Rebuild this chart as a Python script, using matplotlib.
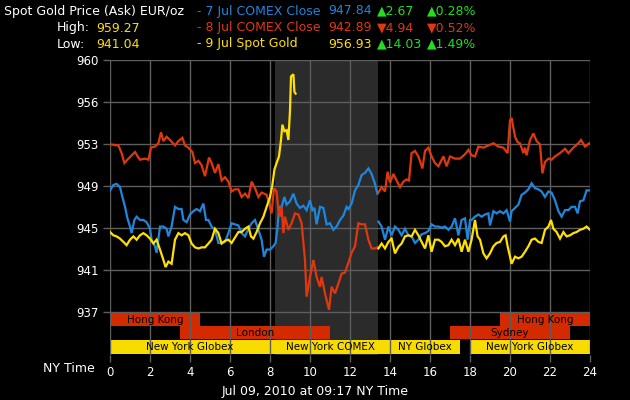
import numpy as np
import matplotlib
matplotlib.use('Agg')
import matplotlib.pyplot as plt
import matplotlib.transforms as mtransforms

# --- data (hours NY time, EUR/oz) ---
red_am_t = [0, 0.42, 0.58, 0.72, 0.92, 1.25, 1.42, 1.5, 1.75, 1.92, 2.05, 2.25, 2.42, 2.55, 2.67, 2.83,
            3.0, 3.25, 3.42, 3.62, 3.75, 3.92, 4.12, 4.25, 4.42, 4.58, 4.75, 4.95, 5.08, 5.25, 5.42, 5.58,
            5.75, 5.92, 6.08, 6.25, 6.42, 6.58, 6.75, 6.92, 7.08, 7.25, 7.42, 7.58, 7.83, 8.0, 8.08, 8.2,
            8.33, 8.42, 8.5, 8.58, 8.67, 8.75, 8.92, 9.08, 9.25, 9.42, 9.58, 9.75, 9.83, 10.0, 10.17, 10.33,
            10.5, 10.58, 10.75, 10.95, 11.08, 11.25, 11.42, 11.58, 11.75, 11.92, 12.08, 12.25, 12.42, 12.58,
            12.75, 12.92, 13.08, 13.25, 13.37]
red_am_v = [952.3, 952.2, 951.5, 950.6, 951.0, 951.6, 951.1, 950.9, 951.0, 950.9, 952.0, 952.1, 952.4, 953.4,
            952.6, 953.0, 952.7, 952.2, 952.6, 952.9, 952.2, 952.0, 951.6, 950.6, 950.8, 950.4, 949.4, 951.1,
            950.6, 949.7, 950.5, 949.0, 949.3, 948.9, 948.0, 948.2, 948.2, 947.5, 947.8, 947.4, 948.9, 948.3,
            947.5, 947.9, 947.7, 946.6, 946.0, 948.3, 948.0, 946.3, 945.7, 946.6, 944.2, 945.7, 944.5, 945.1,
            946.0, 945.9, 945.1, 941.75, 938.4, 940.2, 941.75, 940.2, 939.3, 940.2, 938.7, 937.2, 939.3, 938.7,
            939.6, 940.5, 940.6, 941.5, 942.4, 943.0, 945.1, 945.0, 945.0, 943.6, 942.8, 942.8, 942.9]
red_pm_t = [13.42, 13.58, 13.75, 13.88, 14.0, 14.17, 14.33, 14.5, 14.67, 14.83, 14.95, 15.08, 15.25, 15.42,
            15.62, 15.75, 15.92, 16.08, 16.25, 16.42, 16.67, 16.83, 17.0, 17.25, 17.5, 17.75, 17.92, 18.08,
            18.25, 18.42, 18.67, 18.92, 19.17, 19.42, 19.67, 19.88, 20.0, 20.08, 20.25, 20.38, 20.5, 20.67,
            20.75, 20.83, 21.0, 21.17, 21.33, 21.5, 21.62, 21.75, 21.92, 22.08, 22.25, 22.5, 22.75, 22.92,
            23.17, 23.42, 23.55, 23.75, 24.0]
red_pm_v = [947.9, 948.4, 948.0, 949.8, 948.8, 949.6, 949.0, 948.4, 948.9, 949.1, 949.0, 951.5, 951.7, 951.2,
            950.1, 951.7, 952.0, 951.2, 950.6, 950.3, 951.2, 950.3, 951.2, 951.0, 951.0, 951.4, 951.8, 951.3,
            951.2, 952.1, 952.0, 952.2, 952.4, 952.1, 952.0, 951.5, 954.5, 954.7, 953.0, 952.5, 952.4, 951.5,
            952.0, 951.3, 952.7, 953.3, 952.6, 952.3, 949.65, 950.7, 951.0, 950.9, 951.2, 951.5, 951.9, 951.5,
            952.0, 952.4, 952.7, 952.1, 952.45]

blue_am_t = [0, 0.17, 0.33, 0.5, 0.62, 0.75, 0.88, 1.0, 1.08, 1.22, 1.33, 1.5, 1.67, 1.83, 2.0, 2.08, 2.25,
             2.33, 2.5, 2.67, 2.83, 2.92, 3.08, 3.25, 3.42, 3.58, 3.67, 3.83, 4.0, 4.17, 4.33, 4.5, 4.67, 4.8,
             4.92, 5.08, 5.25, 5.42, 5.58, 5.75, 5.92, 6.08, 6.25, 6.42, 6.58, 6.75, 6.92, 7.08, 7.25, 7.42,
             7.58, 7.7, 7.83, 8.0, 8.17, 8.28, 8.38, 8.45, 8.58, 8.72, 8.83, 9.0, 9.17, 9.33, 9.5, 9.67, 9.83,
             10.0, 10.12, 10.22, 10.33, 10.5, 10.67, 10.83, 11.0, 11.17, 11.33, 11.5, 11.67, 11.83, 11.92,
             12.08, 12.25, 12.42, 12.58, 12.75, 12.92, 13.08, 13.25, 13.37]
blue_am_v = [948.1, 948.6, 948.7, 948.4, 947.5, 946.6, 945.5, 944.8, 944.2, 945.4, 945.7, 945.4, 945.4, 945.2,
             944.6, 943.6, 943.0, 942.4, 944.8, 944.8, 944.6, 943.9, 944.8, 946.6, 946.4, 946.4, 945.4, 945.2,
             945.9, 946.2, 946.4, 946.2, 946.9, 945.4, 945.4, 944.8, 944.5, 943.3, 943.3, 943.4, 944.2, 945.1,
             945.0, 944.9, 944.2, 943.9, 944.6, 945.1, 945.4, 944.5, 943.6, 942.05, 942.7, 942.7, 943.0, 943.3,
             944.8, 946.6, 946.6, 947.5, 946.8, 947.1, 947.8, 946.9, 946.5, 946.7, 946.3, 947.2, 946.3, 946.5,
             945.0, 946.6, 946.5, 945.0, 945.1, 944.5, 944.8, 945.4, 945.8, 946.6, 946.4, 946.9, 948.1, 948.6,
             949.5, 949.7, 950.1, 949.6, 948.7, 947.8]
blue_pm_t = [13.42, 13.58, 13.75, 13.92, 14.08, 14.25, 14.42, 14.58, 14.75, 14.92, 15.08, 15.25, 15.42, 15.58,
             15.75, 15.92, 16.08, 16.25, 16.42, 16.58, 16.75, 16.92, 17.08, 17.25, 17.42, 17.58, 17.75, 17.88,
             18.0, 18.08, 18.25, 18.42, 18.58, 18.75, 18.92, 19.0, 19.17, 19.33, 19.5, 19.67, 19.83, 20.0,
             20.08, 20.25, 20.42, 20.58, 20.75, 20.92, 21.08, 21.25, 21.42, 21.58, 21.75, 21.92, 22.08, 22.25,
             22.42, 22.58, 22.75, 22.92, 23.08, 23.25, 23.38, 23.5, 23.67, 23.83, 24.0]
blue_pm_v = [945.25, 944.8, 943.6, 944.8, 944.0, 944.8, 944.5, 944.0, 944.6, 944.0, 943.9, 943.3, 943.6, 944.1,
             944.2, 944.4, 945.0, 944.8, 944.8, 944.7, 944.8, 944.5, 944.8, 945.55, 944.0, 945.4, 945.55, 943.6,
             945.4, 945.4, 945.7, 945.9, 945.7, 945.9, 946.0, 944.9, 946.2, 946.0, 946.2, 946.0, 946.3, 945.25,
             946.2, 946.5, 946.8, 947.7, 947.9, 948.2, 948.75, 948.3, 948.2, 948.0, 947.5, 948.0, 947.9, 947.2,
             946.2, 945.7, 946.3, 946.3, 946.6, 946.6, 946.0, 947.1, 947.2, 948.1, 948.1]

yel_am_t = [0, 0.17, 0.33, 0.5, 0.67, 0.83, 1.0, 1.17, 1.33, 1.5, 1.67, 1.83, 2.0, 2.17, 2.33, 2.5, 2.67,
            2.78, 2.92, 3.08, 3.25, 3.42, 3.58, 3.75, 3.92, 4.08, 4.25, 4.42, 4.58, 4.75, 4.92, 5.08, 5.25,
            5.42, 5.58, 5.75, 5.92, 6.08, 6.25, 6.42, 6.58, 6.75, 6.92, 7.05, 7.17, 7.33, 7.5, 7.67, 7.83,
            8.0, 8.12, 8.22, 8.33, 8.45, 8.55, 8.62, 8.72, 8.83, 8.92, 9.0, 9.05, 9.17, 9.22, 9.28]
yel_am_v = [944.3, 944.0, 943.9, 943.7, 943.4, 943.1, 943.6, 943.9, 943.6, 944.0, 944.2, 944.0, 943.7, 943.25,
            943.6, 942.7, 941.75, 941.1, 941.6, 941.4, 943.6, 944.2, 944.0, 944.2, 944.0, 943.25, 942.9, 942.8,
            942.9, 942.9, 943.25, 943.6, 944.6, 944.2, 943.25, 943.5, 943.6, 943.3, 943.8, 944.3, 944.3, 944.6,
            944.8, 943.9, 943.7, 944.3, 945.1, 945.7, 946.6, 947.5, 948.6, 950.0, 950.6, 951.2, 952.7, 954.1,
            953.5, 953.6, 952.7, 955.4, 958.5, 958.7, 957.1, 956.93]
yel_pm_t = [13.42, 13.58, 13.75, 13.92, 14.08, 14.25, 14.42, 14.58, 14.75, 14.92, 15.08, 15.25, 15.42, 15.58,
            15.75, 15.92, 16.08, 16.25, 16.42, 16.58, 16.75, 16.92, 17.08, 17.25, 17.42, 17.58, 17.75, 17.92,
            18.08, 18.25, 18.38, 18.5, 18.67, 18.83, 19.0, 19.17, 19.33, 19.5, 19.67, 19.78, 19.88, 20.0,
            20.08, 20.25, 20.42, 20.58, 20.75, 20.92, 21.08, 21.25, 21.42, 21.58, 21.75, 21.92, 22.05, 22.17,
            22.33, 22.5, 22.67, 22.83, 23.0, 23.17, 23.33, 23.5, 23.67, 23.83, 24.0]
yel_pm_v = [942.8, 943.25, 942.8, 943.4, 943.7, 942.35, 942.95, 943.25, 943.9, 944.0, 943.9, 944.5, 944.0, 943.4,
            942.8, 944.0, 942.5, 943.6, 943.6, 943.4, 943.0, 943.1, 943.6, 943.1, 943.7, 942.5, 943.6, 942.5,
            943.6, 945.4, 943.9, 943.6, 942.35, 941.9, 942.35, 943.0, 943.3, 943.4, 943.9, 944.0, 943.0, 942.05,
            941.4, 942.05, 941.9, 942.05, 942.5, 943.0, 943.6, 943.7, 943.4, 943.3, 944.5, 944.8, 945.4, 944.6,
            944.3, 943.7, 944.3, 943.9, 944.0, 944.2, 944.3, 944.5, 944.6, 944.8, 944.5]

ytick_vals = [960 - k * 23 / 6 for k in range(7)]
ytick_labels = ['960', '956', '953', '949', '945', '941', '937']
xtick_vals = list(range(0, 25, 2))

# trading sessions: (start hour, end hour, label)
sessions_row1 = [(0, 4.5, 'Hong Kong'), (19.5, 24, 'Hong Kong')]
sessions_row2 = [(3.5, 11, 'London'), (17, 23, 'Sydney')]
sessions_row3 = [(0, 8, 'New York Globex'), (8, 14, 'New York COMEX'), (14, 17.5, 'NY Globex'),
                 (18, 24, 'New York Globex')]
comex_open = (8.25, 13.38)

BLUE = '#1e86dc'
RED = '#e0380e'
YELLOW = '#ffe000'
GREEN = '#22dd22'
GRID = '#5e5e5e'

fig = plt.figure(figsize=(6.3, 4.0), dpi=100, facecolor='black')
ax = fig.add_axes([110 / 630, 45 / 400, 480 / 630, 295 / 400], facecolor='black')

ax.set_xlim(0, 24)
ax.set_ylim(960 - 295 / 10.957, 960)

# COMEX shading
ax.axvspan(*comex_open, color='#2b2b2b', zorder=0, lw=0)

# session bars
trans = mtransforms.blended_transform_factory(ax.transData, ax.transAxes)
for row, (y0, h), col in [(sessions_row1, (0.098, 0.048), '#d42a00'),
                          (sessions_row2, (0.054, 0.044), '#d42a00'),
                          (sessions_row3, (0.004, 0.047), '#f8dc00')]:
    for s, e, lab in row:
        ax.add_patch(plt.Rectangle((s, y0), e - s, h, transform=trans, facecolor=col,
                                   edgecolor='none', zorder=1))
        ax.text((s + e) / 2, y0 + h / 2 - 0.002, lab, transform=trans, ha='center', va='center',
                fontsize=7.5, color='black', zorder=4)

ax.set_xticks(xtick_vals)
ax.set_xticklabels([str(v) for v in xtick_vals])
ax.set_yticks(ytick_vals)
ax.set_yticklabels(ytick_labels)
ax.grid(True, color=GRID, lw=1.0, zorder=2)
ax.set_axisbelow(False)
for sp in ax.spines.values():
    sp.set_visible(False)
ax.tick_params(colors=GRID, labelcolor='white', labelsize=8.5, length=5, width=1.0, pad=3)

for t, v, c in [(blue_am_t, blue_am_v, BLUE), (blue_pm_t, blue_pm_v, BLUE),
                (red_am_t, red_am_v, RED), (red_pm_t, red_pm_v, RED),
                (yel_am_t, yel_am_v, YELLOW), (yel_pm_t, yel_pm_v, YELLOW)]:
    ax.plot(t, v, color=c, lw=1.6, zorder=3, solid_joinstyle='miter')

# header text
def ftext(x, y, s, color='white', ha='left', **kw):
    fig.text(x / 630, 1 - y / 400, s, color=color, ha=ha, va='center', fontsize=9, **kw)

ftext(4, 11, 'Spot Gold Price (Ask) EUR/oz')
ftext(57, 28, 'High:')
ftext(96, 28, '959.27', YELLOW)
ftext(57, 44, 'Low:')
ftext(96, 44, '941.04', YELLOW)

rows = [('- 7 Jul COMEX Close', '947.84', '\u25b22.67', '\u25b20.28%', BLUE, GREEN),
        ('- 8 Jul COMEX Close', '942.89', '\u25bc4.94', '\u25bc0.52%', RED, RED),
        ('- 9 Jul Spot Gold', '956.93', '\u25b214.03', '\u25b21.49%', YELLOW, GREEN)]
for i, (name, val, chg, pct, c, cc) in enumerate(rows):
    y = 11 + i * 16.5
    ftext(197, y, name, c)
    ftext(328, y, val, c)
    ftext(377, y, chg, cc)
    ftext(427, y, pct, cc)

ftext(95, 368, 'NY Time', ha='right')
ftext(315, 392, 'Jul 09, 2010 at 09:17 NY Time', ha='center')

fig.savefig('out.png', dpi=100, facecolor='black')
